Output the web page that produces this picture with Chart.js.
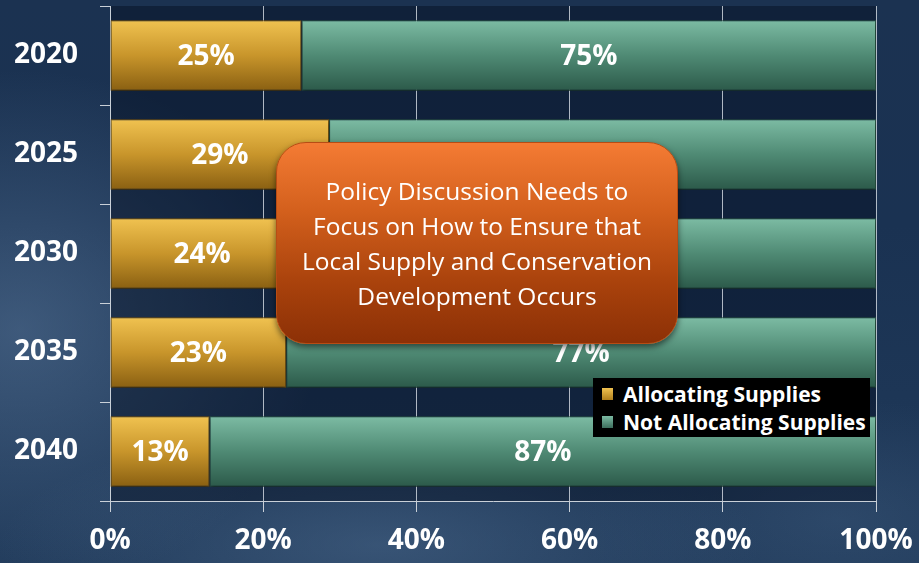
<!DOCTYPE html>
<html>
<head>
<meta charset="utf-8">
<script src="https://cdn.jsdelivr.net/npm/chart.js@4.4.1/dist/chart.umd.min.js"></script>
<style>
  html, body { margin: 0; padding: 0; }
  body {
    width: 919px; height: 563px; overflow: hidden; position: relative;
    font-family: 'Open Sans', sans-serif;
    background:
      radial-gradient(ellipse 300px 260px at 20px 330px, rgba(90,120,155,0.55), rgba(90,120,155,0) 100%),
      radial-gradient(ellipse 380px 120px at 380px 545px, rgba(80,110,145,0.5), rgba(80,110,145,0) 100%),
      radial-gradient(ellipse 260px 120px at 840px 520px, rgba(70,100,135,0.35), rgba(70,100,135,0) 100%),
      linear-gradient(180deg, #1b3251 0%, #1a3252 40%, #203a5a 100%);
  }
  #wrap { position: absolute; left: 0; top: 0; width: 919px; height: 563px; }
  #callout {
    position: absolute; left: 276px; top: 142px; width: 402px; height: 202px;
    box-sizing: border-box; border-radius: 30px;
    background: linear-gradient(180deg, #f47b34 0%, #d25f1c 35%, #a9420c 70%, #8c3006 100%);
    border: 1px solid #b84c14;
    box-shadow: 0 3px 6px rgba(0,0,0,0.55);
    color: #fff; font-size: 24.5px; line-height: 35px; text-align: center;
    display: flex; align-items: center; justify-content: center;
  }
  #legend {
    position: absolute; left: 593px; top: 378px; width: 277px; height: 59px;
    background: #000; box-sizing: border-box; padding: 2px 0 0 9px;
  }
  .item { height: 28px; display: flex; align-items: center; color: #fff; font-weight: bold; font-size: 21px; white-space: nowrap; }
  .sw { width: 11px; height: 12px; margin-right: 10px; flex: none; }
</style>
</head>
<body>
<div id="wrap"><canvas id="c" width="919" height="563"></canvas></div>
<div id="callout"><div>Policy Discussion Needs to<br>Focus on How to Ensure that<br>Local Supply and Conservation<br>Development Occurs</div></div>
<div id="legend"></div>
<script>
const years = ['2020', '2025', '2030', '2035', '2040'];
const allocating = [25, 28.6, 24, 23, 13];
const notAllocating = [75, 71.4, 76, 77, 87];
const xTicks = ['0%', '20%', '40%', '60%', '80%', '100%'];

const GOLD = ['#f0c250', '#c8952b', '#8a6012'];
const TEAL = ['#7cbba3', '#4f8a74', '#2c5a4a'];

function barGradient(stops) {
  return (ctx) => {
    const chart = ctx.chart;
    if (!chart.chartArea || ctx.type !== 'data') return stops[1];
    const yc = chart.scales.y.getPixelForValue(ctx.dataIndex);
    const h = 35;
    const g = chart.ctx.createLinearGradient(0, yc - h, 0, yc + h);
    g.addColorStop(0, stops[0]);
    g.addColorStop(0.5, stops[1]);
    g.addColorStop(1, stops[2]);
    return g;
  };
}

// fixed axis sizes, no extra padding for overflowing labels
function fixSize(prop, px) {
  return (s) => {
    s[prop] = px;
    s.paddingTop = s.paddingBottom = s.paddingLeft = s.paddingRight = 0;
  };
}

// darker plot area behind the bars
const plotFill = {
  id: 'plotFill',
  beforeDraw(chart) {
    const { ctx, chartArea: a } = chart;
    ctx.save();
    ctx.fillStyle = 'rgba(4,14,30,0.45)';
    ctx.fillRect(a.left, a.top, a.right - a.left, a.bottom - a.top);
    ctx.restore();
  }
};

// soft shadow under the bars
const barShadow = {
  id: 'barShadow',
  beforeDatasetsDraw(chart) {
    const ctx = chart.ctx;
    ctx.save();
    ctx.shadowColor = 'rgba(0,0,0,0.45)';
    ctx.shadowBlur = 4;
    ctx.shadowOffsetY = 3;
  },
  afterDatasetsDraw(chart) {
    chart.ctx.restore();
  }
};

// value labels in the middle of each segment
const valueLabels = {
  id: 'valueLabels',
  afterDatasetsDraw(chart) {
    const ctx = chart.ctx;
    ctx.save();
    ctx.font = "bold 28px 'Open Sans', sans-serif";
    ctx.fillStyle = '#fff';
    ctx.textAlign = 'center';
    ctx.textBaseline = 'middle';
    chart.data.datasets.forEach((ds, i) => {
      chart.getDatasetMeta(i).data.forEach((bar, j) => {
        const x = (bar.x + bar.base) / 2;
        ctx.fillText(Math.round(ds.data[j]) + '%', x, bar.y + 2);
      });
    });
    ctx.restore();
  }
};

const chart = new Chart(document.getElementById('c'), {
  type: 'bar',
  data: {
    labels: years,
    datasets: [
      {
        label: 'Allocating Supplies',
        data: allocating,
        backgroundColor: barGradient(GOLD),
        borderColor: '#7a560f',
        borderWidth: 1,
        borderSkipped: false,
        swatch: 'linear-gradient(180deg,#f0c250,#b07f1c)'
      },
      {
        label: 'Not Allocating Supplies',
        data: notAllocating,
        backgroundColor: barGradient(TEAL),
        borderColor: '#2a5646',
        borderWidth: 1,
        borderSkipped: false,
        swatch: 'linear-gradient(180deg,#7cbba3,#3d6e5c)'
      }
    ]
  },
  options: {
    indexAxis: 'y',
    responsive: false,
    animation: false,
    layout: { padding: { top: 6, right: 43, left: 0, bottom: 0 } },
    datasets: { bar: { barPercentage: 0.71, categoryPercentage: 1 } },
    plugins: { legend: { display: false }, tooltip: { enabled: false } },
    scales: {
      x: {
        stacked: true, min: 0, max: 100,
        afterFit: fixSize('height', 62),
        border: { display: true, color: '#c9d0d8', width: 1 },
        grid: { color: 'rgba(205,212,220,0.85)', lineWidth: 1, tickLength: 11, tickColor: '#c9d0d8' },
        ticks: {
          stepSize: 20, padding: 12, color: '#fff',
          font: { family: "'Open Sans', sans-serif", size: 28, weight: 'bold' },
          callback: (v) => xTicks[v / 20]
        }
      },
      y: {
        stacked: true,
        afterFit: fixSize('width', 110),
        border: { display: true, color: '#c9d0d8', width: 1 },
        grid: { drawOnChartArea: false, tickLength: 10, tickColor: '#c9d0d8', offset: true },
        ticks: {
          padding: 22, color: '#fff',
          font: { family: "'Open Sans', sans-serif", size: 28, weight: 'bold' }
        }
      }
    }
  },
  plugins: [plotFill, barShadow, valueLabels]
});

// legend built from the chart's datasets
const legend = document.getElementById('legend');
chart.data.datasets.forEach((ds) => {
  const row = document.createElement('div');
  row.className = 'item';
  row.innerHTML = '<span class="sw" style="background:' + ds.swatch + '"></span><span>' + ds.label + '</span>';
  legend.appendChild(row);
});
</script>
</body>
</html>
